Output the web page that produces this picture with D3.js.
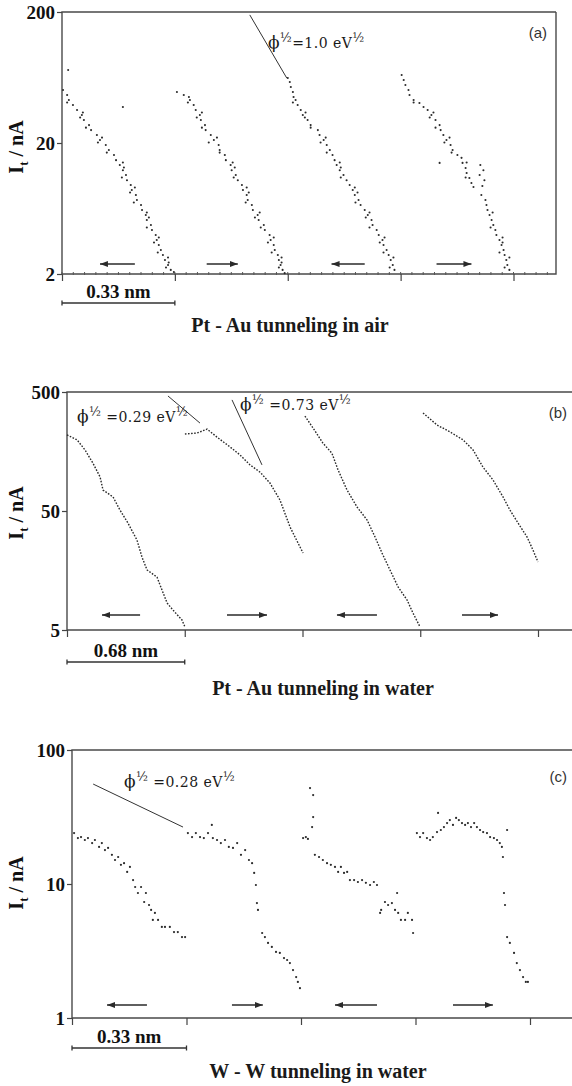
<!DOCTYPE html>
<html>
<head>
<meta charset="utf-8">
<script src="https://cdn.jsdelivr.net/npm/d3@7"></script>
<style>
body { margin: 0; background: #fff; }
svg { display: block; }
</style>
</head>
<body>
<svg id="fig" width="572" height="1086"></svg>
<script>
// ---------- data: x = tip displacement (nm), y = tunneling current I_t (nA) ----------

// (a) Pt - Au in air
var airTicks = [0, 0.33, 0.66, 0.99, 1.32];
var airCurrentTicks = [2, 20, 200];
var airScan1 = [[0.003,50.8],[0.015,46.5],[0.020,42.6],[0.032,39.0],[0.044,35.7],[0.058,32.7],[0.053,31.3],[0.064,30.0],
  [0.079,27.4],[0.085,25.1],[0.102,23.0],[0.111,21.1],[0.105,20.2],[0.128,19.3],[0.137,17.7],[0.152,16.2],[0.158,14.8],
  [0.169,13.6],[0.181,13.0],[0.178,12.4],[0.187,11.4],[0.190,10.4],[0.201,9.55],[0.204,8.75],[0.199,8.38],[0.216,8.02],
  [0.219,7.34],[0.231,6.72],[0.234,6.16],[0.245,5.64],[0.254,5.40],[0.248,5.17],[0.260,4.73],[0.263,4.33],[0.274,3.97],
  [0.277,3.64],[0.269,3.48],[0.283,3.33],[0.289,3.05],[0.295,2.79],[0.301,2.56],[0.312,2.45],[0.310,2.34],[0.318,2.15],
  [0.327,2.07],[0.018,72.1],[0.178,37.7],
  [0.015,40.8],[0.061,34.2],[0.070,26.2],[0.117,22.0],[0.131,16.9],[0.178,14.2],[0.175,10.9],[0.213,9.14],[0.210,7.03],
  [0.248,5.89],[0.248,4.53],[0.283,3.80],[0.280,2.92],[0.310,2.67],[0.304,2.24]];
var airScan2 = [[0.336,49.0],[0.356,46.5],[0.371,44.9],[0.374,42.6],[0.385,39.0],[0.391,35.7],[0.403,32.7],[0.394,31.3],
  [0.406,30.0],[0.418,27.4],[0.420,25.1],[0.435,23.0],[0.444,21.1],[0.429,20.2],[0.458,19.3],[0.461,17.7],[0.476,16.2],
  [0.479,14.8],[0.493,13.6],[0.505,13.0],[0.496,12.4],[0.508,11.4],[0.514,10.4],[0.526,9.55],[0.529,8.75],[0.546,8.38],
  [0.540,8.02],[0.543,7.34],[0.555,6.72],[0.558,6.16],[0.572,5.64],[0.564,5.40],[0.575,5.17],[0.590,4.73],[0.593,4.33],
  [0.607,3.97],[0.610,3.64],[0.602,3.48],[0.619,3.33],[0.622,3.05],[0.631,2.79],[0.634,2.56],[0.642,2.45],[0.639,2.34],
  [0.645,2.15],[0.651,2.03],
  [0.368,40.8],[0.409,34.2],[0.409,26.2],[0.453,22.0],[0.461,16.9],[0.499,14.2],[0.502,10.9],[0.540,9.14],[0.537,7.03],
  [0.578,5.89],[0.581,4.53],[0.619,3.80],[0.613,2.92],[0.642,2.67],[0.634,2.24]];
var airScan3 = [[0.660,62.7],[0.666,58.5],[0.669,53.5],[0.675,49.0],[0.677,44.9],[0.683,42.6],[0.689,39.0],[0.698,35.7],
  [0.704,32.7],[0.710,31.3],[0.718,30.0],[0.727,27.4],[0.748,25.1],[0.753,23.0],[0.765,21.1],[0.756,20.2],[0.774,19.3],
  [0.783,17.7],[0.791,16.2],[0.797,14.8],[0.803,13.6],[0.815,13.0],[0.812,12.4],[0.823,11.4],[0.832,10.4],[0.841,9.55],
  [0.850,8.75],[0.864,8.38],[0.856,8.02],[0.867,7.34],[0.873,6.72],[0.885,6.16],[0.894,5.64],[0.888,5.40],[0.905,5.17],
  [0.908,4.73],[0.920,4.33],[0.926,3.97],[0.937,3.64],[0.929,3.48],[0.940,3.33],[0.949,3.05],[0.955,2.79],[0.961,2.56],
  [0.967,2.34],[0.972,2.15],
  [0.675,40.8],[0.712,34.2],[0.727,26.2],[0.771,22.0],[0.774,16.9],[0.812,14.2],[0.815,10.9],[0.856,9.14],[0.858,7.03],
  [0.899,5.89],[0.899,4.53],[0.943,3.80],[0.940,2.92],[0.969,2.67],[0.958,2.24]];
var airScan4 = [[0.993,66.1],[0.999,60.5],[1.004,55.5],[1.013,50.8],[1.016,46.5],[1.028,42.6],[1.045,40.4],[1.057,37.7],
  [1.069,35.7],[1.080,32.7],[1.075,31.3],[1.092,30.0],[1.104,27.4],[1.107,25.1],[1.115,23.0],[1.124,21.1],[1.118,20.2],
  [1.136,19.3],[1.142,17.7],[1.156,16.2],[1.168,15.4],[1.104,14.1],[1.171,14.1],[1.180,12.9],[1.183,11.8],[1.191,10.8],
  [1.197,9.90],[1.203,9.23],[1.223,13.6],[1.232,12.4],[1.221,11.4],[1.235,10.4],[1.229,9.40],[1.226,8.02],[1.238,7.34],
  [1.241,6.72],[1.244,6.16],[1.250,5.64],[1.256,5.17],[1.261,4.73],[1.267,4.33],[1.270,3.97],[1.279,3.64],[1.288,3.48],
  [1.285,3.33],[1.291,3.05],[1.294,2.79],[1.299,2.56],[1.302,2.34],[1.308,2.15],
  [1.028,40.8],[1.086,34.2],[1.092,26.2],[1.133,22.0],[1.139,16.9],[1.183,14.2],[1.180,10.9],[1.259,5.89],[1.253,4.53],
  [1.288,3.80],[1.279,2.92],[1.308,2.67],[1.294,2.24]];
var airFit = [[0.549,190],[0.657,62.7]];
var airPhi = [{x: 0.602, y: 106, value: "1.0", gap: ""}];
var airArrows = [[0.213,0.111],[0.423,0.514],[0.885,0.788],[1.095,1.197]];

// (b) Pt - Au in water
var waterTicks = [0, 0.68, 1.36, 2.04, 2.72];
var waterCurrentTicks = [5, 50, 500];
var waterScan1 = [[0,218],[0.058,198],[0.104,163],[0.150,126],[0.191,96.6],[0.208,75.1],[0.266,65.6],[0.306,50.9],
  [0.352,39.6],[0.404,28.5],[0.433,20.5],[0.462,16.0],[0.520,13.9],[0.549,10.8],[0.578,8.43],[0.612,7.36],[0.664,6.07],
  [0.681,5.30]];
var waterScan2 = [[0.681,222],[0.751,226],[0.809,244],[0.866,209],[0.941,173],[0.999,148],[1.057,122],[1.115,106],
  [1.172,85.9],[1.230,61.8],[1.288,36.7],[1.363,22.2]];
var waterScan3 = [[1.374,314],[1.421,249],[1.478,186],[1.530,153],[1.565,111],[1.617,75.1],[1.675,54.0],[1.733,42.0],
  [1.779,30.2],[1.819,22.2],[1.865,16.0],[1.912,11.5],[1.964,8.93],[1.998,6.94],[2.039,5.30]];
var waterScan4 = [[2.056,333],[2.137,264],[2.212,231],[2.287,198],[2.345,163],[2.402,117],[2.460,91.2],[2.518,65.6],
  [2.558,50.9],[2.605,39.6],[2.657,30.2],[2.691,23.5],[2.720,18.6]];
var waterFit1 = [[0.583,463],[0.768,274]];
var waterFit2 = [[0.953,429],[1.126,122]];
var waterPhi = [{x: 0.058, y: 280, value: "0.29", gap: " "}, {x: 0.999, y: 353, value: "0.73", gap: " "}];
var waterArrows = [[0.422,0.202],[0.924,1.155],[1.790,1.559],[2.281,2.489]];

// (c) W - W in water
var wwTicks = [0, 0.33, 0.66, 0.99, 1.32];
var wwCurrentTicks = [1, 10, 100];
var wwScan1 = [[0.006,24.0],[0.017,22.0],[0.026,22.4],[0.037,21.3],[0.046,22.0],[0.058,20.2],[0.066,21.3],[0.078,18.9],
  [0.086,20.2],[0.095,17.9],[0.104,18.6],[0.115,16.5],[0.124,15.1],[0.133,15.9],[0.141,13.9],[0.150,14.3],[0.159,12.3],
  [0.167,13.4],[0.176,10.7],[0.182,9.50],[0.190,8.57],[0.199,9.50],[0.208,7.34],[0.213,8.57],[0.222,6.97],[0.228,6.40],
  [0.233,5.39],[0.239,6.08],[0.248,5.39],[0.259,4.78],[0.268,4.78],[0.282,4.78],[0.294,4.38],[0.305,4.38],[0.317,4.02],
  [0.326,4.02]];
var wwScan2 = [[0.334,24.0],[0.346,22.4],[0.357,24.0],[0.369,22.4],[0.380,22.0],[0.392,24.0],[0.403,27.6],[0.406,22.0],
  [0.418,21.3],[0.429,20.2],[0.441,21.3],[0.452,18.9],[0.464,18.6],[0.476,20.2],[0.487,16.5],[0.499,17.9],[0.510,15.1],
  [0.519,14.3],[0.525,12.1],[0.530,9.83],[0.533,7.21],[0.536,6.40],[0.548,4.31],[0.556,4.02],[0.565,3.63],[0.576,3.39],
  [0.588,3.11],[0.599,3.06],[0.611,2.80],[0.620,2.71],[0.628,2.57],[0.637,2.28],[0.646,2.02],[0.651,1.86],[0.657,1.67]];
var wwScan3 = [[0.686,52.0],[0.695,46.1],[0.695,31.6],[0.692,26.6],[0.666,22.0],[0.674,22.4],[0.680,21.7],[0.700,16.5],
  [0.712,15.9],[0.723,15.1],[0.735,14.3],[0.746,13.9],[0.758,13.4],[0.767,12.3],[0.775,13.4],[0.784,12.1],[0.793,12.3],
  [0.801,10.7],[0.813,10.7],[0.824,10.35],[0.836,10.7],[0.847,10.2],[0.859,9.83],[0.870,10.35],[0.879,9.83],[0.888,6.08],
  [0.891,6.40],[0.902,7.34],[0.911,6.97],[0.922,7.21],[0.931,6.40],[0.937,8.57],[0.940,6.08],[0.948,5.39],[0.960,5.39],
  [0.968,6.08],[0.980,5.39],[0.983,4.31]];
var wwScan4 = [[0.994,24.0],[1.003,22.4],[1.012,24.0],[1.023,22.0],[1.032,21.3],[1.040,22.4],[1.052,24.4],[1.055,33.9],
  [1.063,25.3],[1.072,26.6],[1.081,28.5],[1.089,30.0],[1.098,27.6],[1.107,31.1],[1.115,30.0],[1.124,28.5],[1.133,27.6],
  [1.141,28.5],[1.150,26.6],[1.159,28.5],[1.167,26.6],[1.176,25.3],[1.185,24.4],[1.196,24.0],[1.205,22.4],[1.216,22.0],
  [1.225,21.3],[1.233,20.2],[1.239,18.9],[1.242,15.9],[1.254,25.3],[1.245,8.57],[1.248,6.97],[1.254,4.02],[1.262,3.63],
  [1.274,3.06],[1.282,2.57],[1.291,2.28],[1.300,2.02],[1.308,1.86],[1.314,1.86]];
var wwFit = [[0.061,55.7],[0.320,26.6]];
var wwPhi = [{x: 0.150, y: 52.9, value: "0.28", gap: " "}];
var wwArrows = [[0.216,0.101],[0.461,0.550],[0.879,0.758],[1.098,1.213]];

// ---------- layout ----------
var W = 572;
var panels = [
  { left: 62, tickEnd: 513.5, right: 556, closed: true, top: 12, bottom: 274,
    xTicks: airTicks, yTicks: airCurrentTicks, scans: [airScan1, airScan2, airScan3, airScan4], dotted: false,
    fits: [airFit], phi: airPhi, arrows: airArrows, arrowUp: 10, barY: 303, bar: "0.33 nm",
    title: "Pt - Au tunneling in air", titleX: 290, titleY: 332, letter: "(a)", letterX: 547, letterY: 38,
    labelY: 147, minor: true, dotR: 1.05 },
  { left: 67, tickEnd: 538, right: W, closed: false, top: 392, bottom: 630,
    xTicks: waterTicks, yTicks: waterCurrentTicks, scans: [waterScan1, waterScan2, waterScan3, waterScan4], dotted: true,
    fits: [waterFit1, waterFit2], phi: waterPhi, arrows: waterArrows, arrowUp: 15, barY: 662, bar: "0.68 nm",
    title: "Pt - Au tunneling in water", titleX: 323, titleY: 695, letter: "(b)", letterX: 567, letterY: 418,
    labelY: 513, minor: false },
  { left: 72, tickEnd: 530, right: W, closed: false, top: 750, bottom: 1018,
    xTicks: wwTicks, yTicks: wwCurrentTicks, scans: [wwScan1, wwScan2, wwScan3, wwScan4], dotted: false,
    fits: [wwFit], phi: wwPhi, arrows: wwArrows, arrowUp: 13, barY: 1048, bar: "0.33 nm",
    title: "W - W tunneling in water", titleX: 318, titleY: 1078, letter: "(c)", letterX: 567, letterY: 782,
    labelY: 883, minor: false, dotR: 1.1 }
];

var svg = d3.select("#fig");
var serif = "'Liberation Serif', 'Times New Roman', serif";
var ink = "#2a2a2a";

svg.append("defs").append("marker")
  .attr("id", "head")
  .attr("markerUnits", "userSpaceOnUse")
  .attr("markerWidth", 9).attr("markerHeight", 7)
  .attr("refX", 8).attr("refY", 3.5)
  .attr("orient", "auto")
  .append("path").attr("d", "M0,0.5 L8,3.5 L0,6.5 Z").attr("fill", ink);

panels.forEach(function(p) {
  var x = d3.scaleLinear().domain([0, p.xTicks[p.xTicks.length - 1]]).range([p.left, p.tickEnd]);
  var y = d3.scaleLog().domain([p.yTicks[0], p.yTicks[p.yTicks.length - 1]]).range([p.bottom, p.top]);
  var g = svg.append("g");

  // frame
  g.append("path")
    .attr("d", "M" + p.right + "," + p.top + "H" + p.left + "V" + p.bottom + "H" + p.right + (p.closed ? "V" + p.top : ""))
    .attr("fill", "none").attr("stroke", "#4a4a4a").attr("stroke-width", 1.4);

  // bottom ticks
  var xa = g.append("g").attr("transform", "translate(0," + p.bottom + ")")
    .call(d3.axisBottom(x).tickValues(p.xTicks).tickSize(7).tickFormat(""));
  xa.select(".domain").remove();
  xa.selectAll("line").attr("stroke", "#444").attr("stroke-width", 1.2);

  if (p.minor) {
    var step = p.xTicks[1] / 10;
    var minor = d3.range(0, x.invert(p.right), step);
    g.selectAll(".minor").data(minor).enter().append("line")
      .attr("x1", function(d) { return x(d); }).attr("x2", function(d) { return x(d); })
      .attr("y1", p.bottom - 2).attr("y2", p.bottom + 1)
      .attr("stroke", "#555").attr("stroke-width", 1);
  }

  // left ticks + labels
  var ya = g.append("g").attr("transform", "translate(" + p.left + ",0)")
    .call(d3.axisLeft(y).tickValues(p.yTicks).tickSize(5).tickPadding(2).tickFormat(d3.format("d")));
  ya.select(".domain").remove();
  ya.selectAll("line").attr("stroke", "#444").attr("stroke-width", 1.2);
  ya.selectAll("text").attr("font-family", serif).attr("font-weight", "bold")
    .attr("font-size", 19).attr("fill", "#111");

  // y label
  var yl = g.append("text")
    .attr("transform", "translate(23," + p.labelY + ") rotate(-90)")
    .attr("text-anchor", "middle").attr("font-family", serif).attr("font-weight", "bold")
    .attr("font-size", 20).attr("fill", "#111");
  yl.append("tspan").text("I");
  yl.append("tspan").attr("font-size", 13).attr("dy", 5).text("t");
  yl.append("tspan").attr("dy", -5).text(" / nA");

  // fitted slope lines
  p.fits.forEach(function(f) {
    g.append("line")
      .attr("x1", x(f[0][0])).attr("y1", y(f[0][1]))
      .attr("x2", x(f[1][0])).attr("y2", y(f[1][1]))
      .attr("stroke", "#333").attr("stroke-width", 1);
  });

  // scans
  p.scans.forEach(function(s) {
    if (p.dotted) {
      g.append("path").datum(s)
        .attr("d", d3.line().x(function(d) { return x(d[0]); }).y(function(d) { return y(d[1]); }))
        .attr("fill", "none").attr("stroke", ink).attr("stroke-width", 1.4)
        .attr("stroke-dasharray", "1.6 1.5");
    } else {
      g.selectAll(null).data(s).enter().append("circle")
        .attr("cx", function(d) { return x(d[0]); })
        .attr("cy", function(d) { return y(d[1]); })
        .attr("r", p.dotR).attr("fill", ink);
    }
  });

  // scan direction arrows
  p.arrows.forEach(function(a) {
    g.append("line")
      .attr("x1", x(a[0])).attr("x2", x(a[1]))
      .attr("y1", p.bottom - p.arrowUp).attr("y2", p.bottom - p.arrowUp)
      .attr("stroke", ink).attr("stroke-width", 1.5)
      .attr("marker-end", "url(#head)");
  });

  // phi^1/2 labels
  p.phi.forEach(function(l) {
    var t = g.append("text")
      .attr("x", x(l.x)).attr("y", y(l.y))
      .attr("font-family", "'DejaVu Serif', serif").attr("font-size", 14)
      .attr("letter-spacing", 0.5).attr("fill", "#1a1a1a");
    t.append("tspan").attr("font-size", 17).text("\u03D5");
    t.append("tspan").attr("font-size", 12).attr("dy", -6).text("\u00BD");
    t.append("tspan").attr("dy", 6).text(l.gap + "=" + l.value + " eV");
    t.append("tspan").attr("font-size", 12).attr("dy", -6).text("\u00BD");
  });

  // scale bar
  var bx0 = x(0), bx1 = x(p.xTicks[1]);
  g.append("path")
    .attr("d", "M" + bx0 + "," + p.barY + "H" + bx1 +
      "M" + bx0 + "," + (p.barY - 2.5) + "V" + (p.barY + 2.5) +
      "M" + bx1 + "," + (p.barY - 2.5) + "V" + (p.barY + 2.5))
    .attr("stroke", "#333").attr("stroke-width", 1.3).attr("fill", "none");
  g.append("text")
    .attr("x", (bx0 + bx1) / 2).attr("y", p.barY - 5)
    .attr("text-anchor", "middle").attr("font-family", serif).attr("font-weight", "bold")
    .attr("font-size", 19).attr("fill", "#111").text(p.bar);

  // panel letter and caption
  g.append("text").attr("x", p.letterX).attr("y", p.letterY).attr("text-anchor", "end")
    .attr("font-family", "'Liberation Sans', Arial, sans-serif").attr("font-size", 15)
    .attr("fill", "#333").text(p.letter);
  g.append("text").attr("x", p.titleX).attr("y", p.titleY).attr("text-anchor", "middle")
    .attr("font-family", serif).attr("font-weight", "bold").attr("font-size", 20)
    .attr("fill", "#1a1a1a").text(p.title);
});
</script>
</body>
</html>
